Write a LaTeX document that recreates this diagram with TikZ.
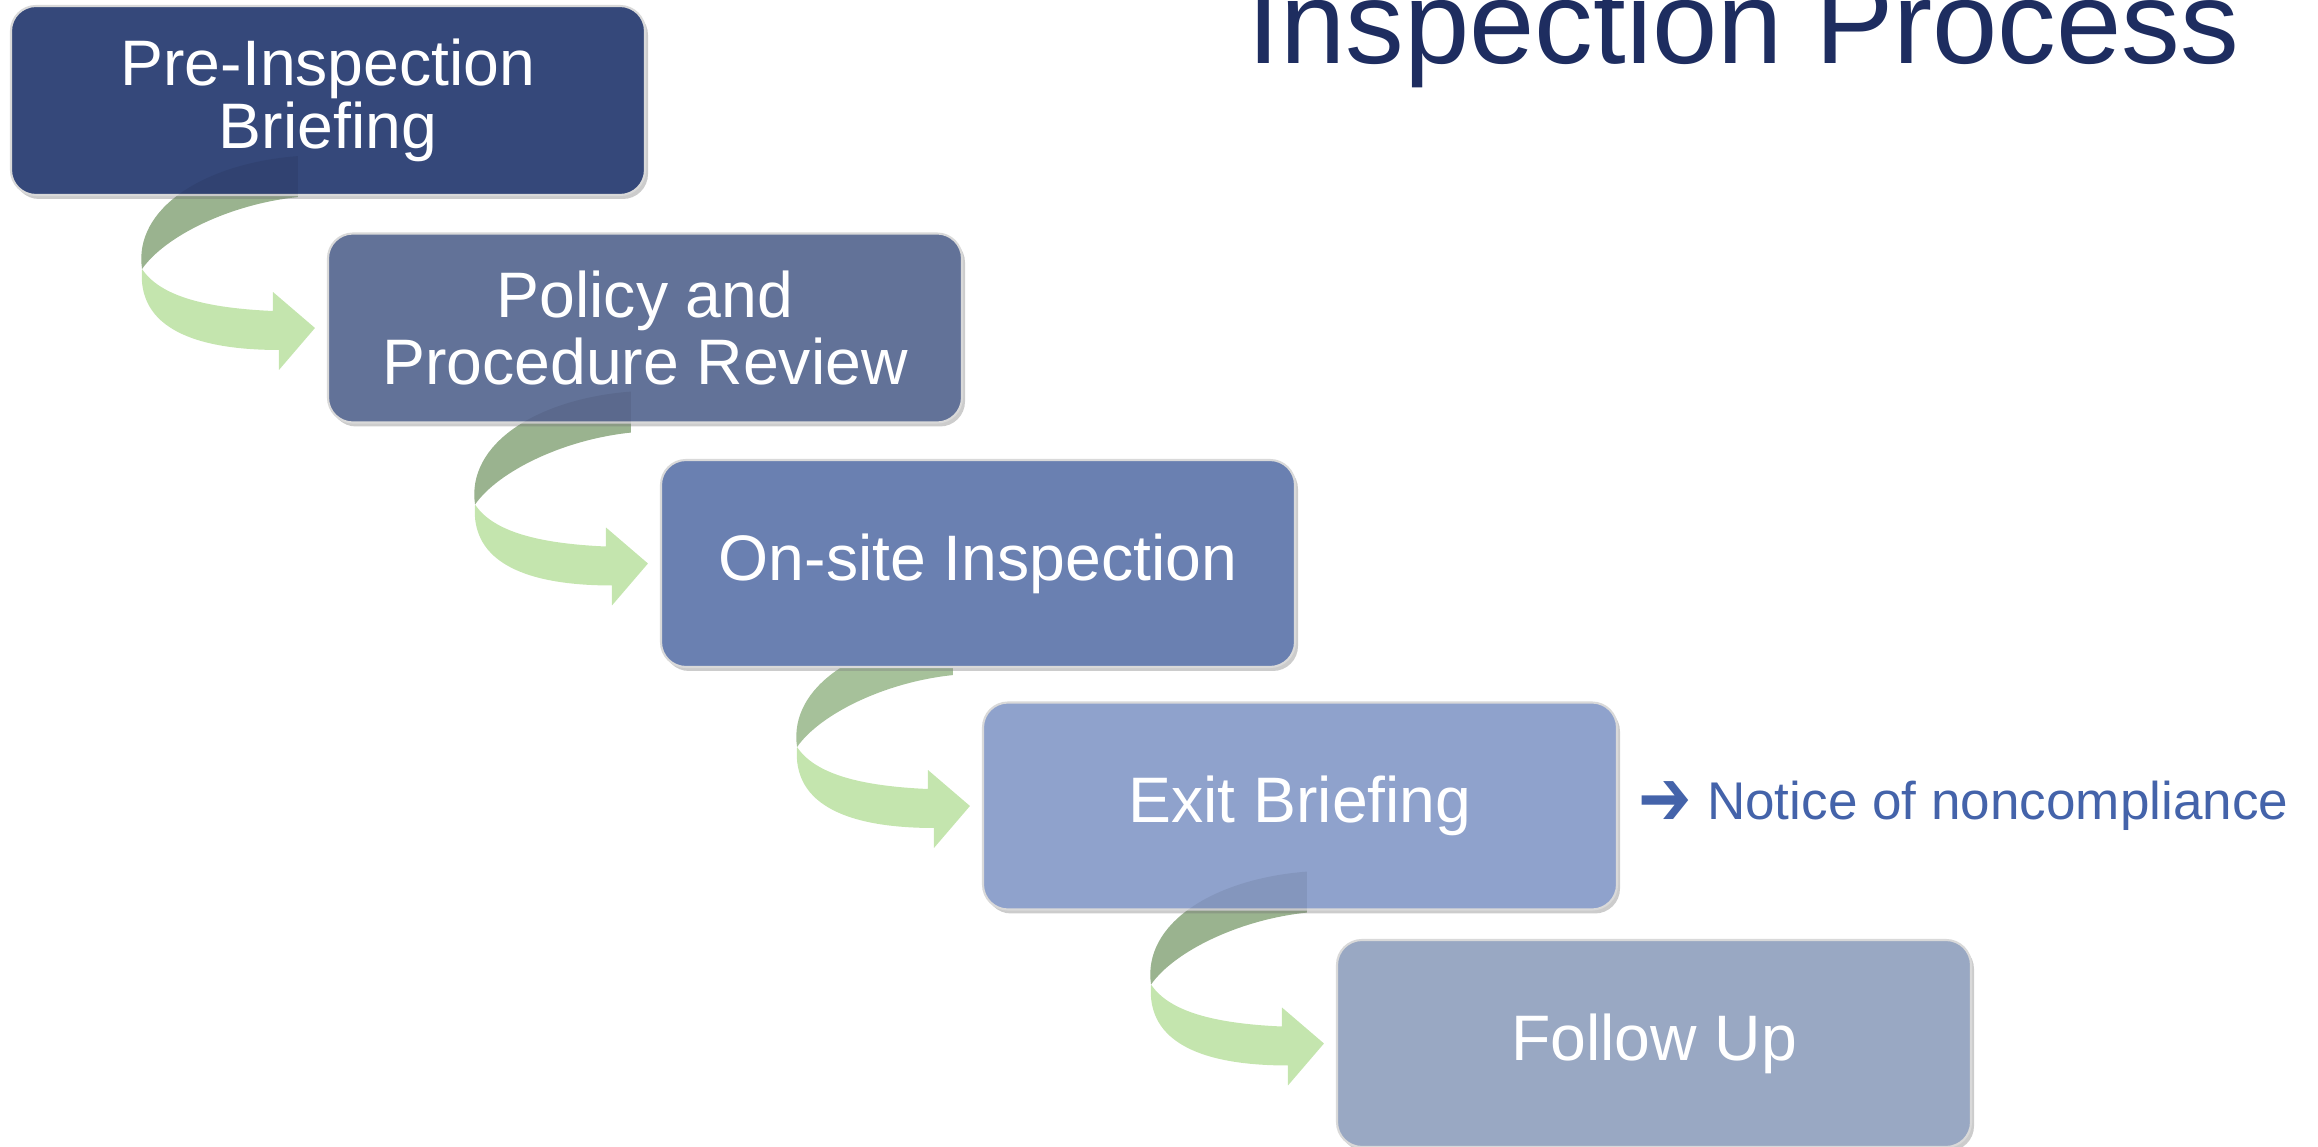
\documentclass[tikz,border=0pt]{standalone}
\usepackage{fontspec}
\setmainfont{Liberation Sans}
\newfontfamily\symbolfont{DejaVu Sans}
\usetikzlibrary{positioning,shadows,backgrounds}

\definecolor{stepOneColor}{HTML}{35487A}
\definecolor{stepTwoColor}{HTML}{627298}
\definecolor{stepThreeColor}{HTML}{6A80B1}
\definecolor{stepFourColor}{HTML}{8FA2CC}
\definecolor{stepFiveColor}{HTML}{99A8C3}
\definecolor{titleColor}{HTML}{1E2D60}
\definecolor{noticeColor}{HTML}{4463AA}
\definecolor{arrowBackColor}{HTML}{A6C19A}
\definecolor{arrowFrontColor}{HTML}{C4E5AE}

\newcommand{\boxWidth}{6.34}
\newcommand{\lowBoxHeight}{1.89}
\newcommand{\highBoxHeight}{2.07}
\newcommand{\tipOffsetX}{-0.12}

% curved arrow ending just left of box #1
\newcommand{\stepArrow}[1]{%
  \begin{scope}[shift={(#1.west)}, xshift=\tipOffsetX cm, x=0.01cm, y=0.01cm]
    % back side
    \fill [arrowBackColor] (-173,59) .. controls (-182,120) and (-110,165) .. (-17,172) -- (-17,131) .. controls (-85,124) and (-150,92) .. (-173,59) -- cycle;
    % front side
    \fill [arrowFrontColor] (-173,59) .. controls (-178,0) and (-120,-22) .. (-36,-22) -- (-36,-42) -- (0,0) -- (-42,36) -- (-42,17) .. controls (-110,20) and (-155,32) .. (-173,59) -- cycle;
  \end{scope}}

% faint trace of the arrow tail seen through the box above
\newcommand{\stepArrowTail}[1]{%
  \begin{scope}[shift={(#1.west)}, xshift=\tipOffsetX cm, x=0.01cm, y=0.01cm]
    \fill [black, fill opacity=0.07] (-173,59) .. controls (-182,120) and (-110,165) .. (-17,172) -- (-17,131) .. controls (-85,124) and (-150,92) .. (-173,59) -- cycle;
  \end{scope}}

\tikzset{
  stepbox/.style={rounded corners=0.25cm, minimum width=\boxWidth cm, minimum height=\lowBoxHeight cm,
    align=center, text=white, font=\fontsize{18.3}{18.9}\selectfont,
    draw=black!15, line width=0.6pt,
    drop shadow={shadow xshift=0.03cm, shadow yshift=-0.04cm, opacity=0.4}},
  title/.style={inner sep=0pt, text=titleColor, font=\fontsize{33.4}{40}\selectfont},
  notice/.style={inner sep=0pt, text=noticeColor, font=\fontsize{15.1}{17}\selectfont}
}

\begin{document}
\begin{tikzpicture}
    \useasboundingbox (0,0) rectangle (23.18,-11.47);

    % Title
    \node[title, anchor=base west] (title) at (12.47,-0.64) {Inspection Process};

    % Steps
    \node[stepbox, fill=stepOneColor] (preBriefing) at (3.28,-1.005) {\raisebox{-0.03cm}{Pre-Inspection}\\Briefing};
    \node[stepbox, fill=stepTwoColor] (policyReview) at (6.45,-3.28) {Policy and\\Procedure Review};
    \node[stepbox, fill=stepThreeColor, minimum height=\highBoxHeight cm] (onSite) at (9.78,-5.635) {On-site Inspection};
    \node[stepbox, fill=stepFourColor, minimum height=\highBoxHeight cm] (exitBriefing) at (13.00,-8.06) {Exit Briefing};
    \node[stepbox, fill=stepFiveColor, minimum height=\highBoxHeight cm] (followUp) at (16.54,-10.435) {Follow Up};

    % Outcome of the exit briefing
    \node[notice, right=0.2cm of exitBriefing] (notice) {\raisebox{-0.06cm}{\scalebox{1.2}[1.5]{\symbolfont ➔}}\hspace{0.15cm}Notice of noncompliance};

    % Draw arrows between steps
    \begin{scope}[on background layer]
        \stepArrow{policyReview}
        \stepArrow{onSite}
        \stepArrow{exitBriefing}
        \stepArrow{followUp}
    \end{scope}
    \stepArrowTail{policyReview}
    \stepArrowTail{onSite}
    \stepArrowTail{followUp}
\end{tikzpicture}
\end{document}
